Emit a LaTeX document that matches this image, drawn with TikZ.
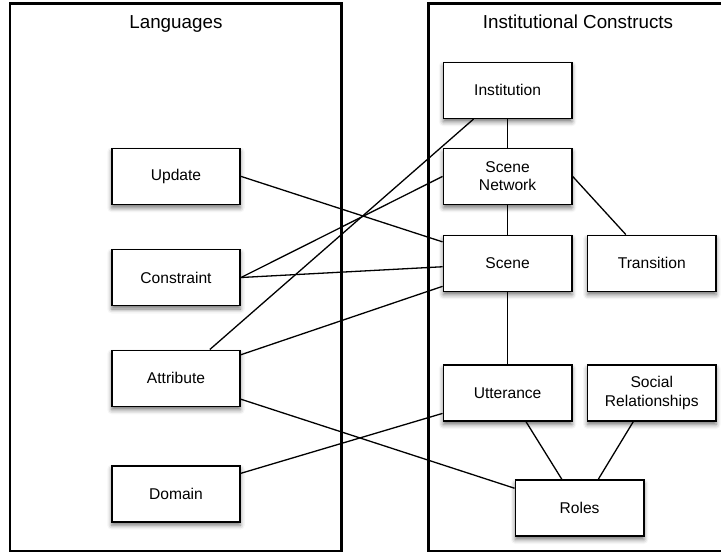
\documentclass[tikz,border=0pt]{standalone}
\usepackage{fontspec}
\setmainfont{Liberation Sans}
\usetikzlibrary{calc,shadows.blur}
\tikzset{
  box/.style={draw=black, line width=1.6pt, fill=white, minimum width=128.5pt, minimum height=56pt,
    inner sep=0pt, align=center, font=\fontsize{15.6}{18.3}\selectfont,
    blur shadow={shadow xshift=0pt, shadow yshift=-3.5pt, shadow blur radius=4.5pt, shadow opacity=55}},
  frame/.style={draw=black, line width=2.8pt},
  title/.style={font=\fontsize{18.8}{22}\selectfont, anchor=base},
  conn/.style={draw=black, line width=1.3pt}
}
\begin{document}
\begin{tikzpicture}[x=1pt,y=-1pt]
\useasboundingbox (0,0) rectangle (721,554);
% frames
\draw[frame] (10,3.7) rectangle (341.7,551);
\draw[frame] (428.3,3.7) rectangle (728,551);
\node[title] (tl) at (175.9,28.5) {Languages};
\node[title] (tr2) at (578,28.5) {Institutional Constructs};
% boxes
\node[box] (upd) at (176,176.4) {Update};
\node[box] (con) at (176,277.5) {Constraint};
\node[box] (att) at (176,378.3) {Attribute};
\node[box] (dom) at (176,493.7) {Domain};
\node[box] (ins) at (507.6,90.3) {Institution};
\node[box] (sn) at (507.6,176.4) {Scene\\Network};
\node[box] (sc) at (507.6,263.3) {Scene};
\node[box] (tra) at (651.8,263.3) {Transition};
\node[box] (utt) at (507.6,393) {Utterance};
\node[box] (soc) at (651.8,393) {Social\\Relationships};
\node[box] (rol) at (579.6,508) {Roles};
% connectors
\draw[conn] (ins.south) -- (sn.north);
\draw[conn] (sn.south) -- (sc.north);
\draw[conn] (sc.south) -- (utt.north);
\draw[conn] (sn.east) -- ($(tra.north west)!0.3!(tra.north east)$);
\draw[conn] ($(utt.south west)!0.642!(utt.south east)$) -- ($(rol.north west)!0.363!(rol.north east)$);
\draw[conn] ($(soc.south west)!0.357!(soc.south east)$) -- ($(rol.north west)!0.644!(rol.north east)$);
\draw[conn] (upd.east) -- ($(sc.north west)!0.128!(sc.south west)$);
\draw[conn] ($(ins.south west)!0.238!(ins.south east)$) -- ($(att.north west)!0.76!(att.north east)$);
\draw[conn] (con.east) -- (sn.west);
\draw[conn] (con.east) -- ($(sc.north west)!0.56!(sc.south west)$);
\draw[conn] ($(att.north east)!0.09!(att.south east)$) -- ($(sc.north west)!0.9!(sc.south west)$);
\draw[conn] ($(att.north east)!0.864!(att.south east)$) -- ($(rol.north west)!0.157!(rol.south west)$);
\draw[conn] ($(dom.north east)!0.145!(dom.south east)$) -- ($(utt.north west)!0.854!(utt.south west)$);
\end{tikzpicture}
\end{document}
